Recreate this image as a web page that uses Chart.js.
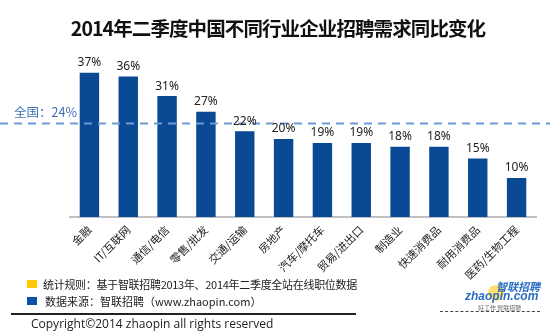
<!DOCTYPE html>
<html><head><meta charset="utf-8">
<script src="https://cdn.jsdelivr.net/npm/chart.js@4"></script>
<style>
html,body{margin:0;padding:0;background:#fff;}
#wrap{position:relative;width:550px;height:335px;overflow:hidden;font-family:"Noto Sans CJK SC","Noto Sans",sans-serif;}
canvas{position:absolute;left:0;top:0;}
.t{position:absolute;white-space:nowrap;}
</style></head><body>
<div id="wrap">
<canvas id="c" width="550" height="335"></canvas>
<div class="t" style="left:0;width:556px;top:13px;text-align:center;font-size:19.5px;font-weight:bold;color:#111;letter-spacing:-0.9px;">2014年二季度中国不同行业企业招聘需求同比变化</div>
<div class="t" style="left:27px;top:280px;width:10px;height:8px;background:#ffcc00;"></div>
<div class="t" style="left:43px;top:276px;font-size:11px;color:#222;letter-spacing:-0.3px;">统计规则：基于智联招聘2013年、2014年二季度全站在线职位数据</div>
<div class="t" style="left:27px;top:297px;width:10px;height:8px;background:#0a52a8;"></div>
<div class="t" style="left:45px;top:293px;font-size:11px;color:#222;">数据来源：智联招聘（www.zhaopin.com）</div>
<div class="t" style="left:11px;top:313px;width:345px;height:1.5px;background:#222;"></div>
<div class="t" style="left:31px;top:315px;font-size:12px;color:#222;font-family:'Open Sans','Noto Sans',sans-serif;">Copyright©2014 zhaopin all rights reserved</div>
<div class="t" style="left:488px;top:285px;width:16px;height:16px;border-radius:8px;background:#ffd84a;opacity:0.8;"></div>
<div class="t" style="left:496px;top:278px;font-size:11px;font-weight:bold;font-style:italic;color:#2a6cc0;">智联招聘</div>
<div class="t" style="left:465px;top:289px;font-size:12px;font-weight:bold;font-style:italic;color:#2a6cc0;font-family:'Liberation Sans',sans-serif;">zhaopin.com</div>
<div class="t" style="left:478px;top:303px;font-size:6px;color:#666;">好工作 智联招聘</div>
<div class="t" style="left:440px;top:311px;width:100px;height:0;border-top:1.5px dashed #444;"></div>
</div>
<script>
const categories = ["金融","IT/互联网","通信/电信","零售/批发","交通/运输","房地产","汽车/摩托车","贸易/进出口","制造业","快速消费品","耐用消费品","医药/生物工程"];
const values = [37,36,31,27,22,20,19,19,18,18,15,10];
const nationalAvg = 24;
const nationalLabel = "全国：24%";

const overlay = {
  id:'overlay',
  afterDatasetsDraw(chart){
    const ctx = chart.ctx, y = chart.scales.y;
    const meta = chart.getDatasetMeta(0);
    ctx.save();
    const yp = y.getPixelForValue(nationalAvg);
    ctx.strokeStyle = '#6f9bd4';
    ctx.lineWidth = 2;
    ctx.setLineDash([8,6]);
    ctx.beginPath(); ctx.moveTo(0,yp); ctx.lineTo(550,yp); ctx.stroke();
    ctx.setLineDash([]);
    ctx.fillStyle = '#3a6fb0';
    ctx.font = '12.5px "Noto Sans CJK SC", sans-serif';
    ctx.textAlign = 'left'; ctx.textBaseline = 'bottom';
    ctx.fillText(nationalLabel, 14, yp - 5);
    ctx.fillStyle = '#222';
    ctx.font = '12px "Noto Sans", sans-serif';
    ctx.textAlign = 'center'; ctx.textBaseline = 'bottom';
    meta.data.forEach((b,i)=>{
      ctx.fillText(values[i] + '%', b.x, b.y - 4);
    });
    ctx.restore();
  }
};

new Chart(document.getElementById('c'), {
  type:'bar',
  data:{ labels: categories, datasets:[{ data: values, backgroundColor:'#0a4a94', borderWidth:0, categoryPercentage:1.0, barPercentage:0.5 }]},
  options:{
    responsive:false, animation:false,
    layout:{ padding:{ left:70, right:14, top:61, bottom:0 } },
    plugins:{ legend:{display:false}, tooltip:{enabled:false} },
    scales:{
      x:{
        grid:{ display:false, drawTicks:false },
        border:{ display:true, color:'#c0c0c0', width:2 },
        ticks:{ maxRotation:45, minRotation:45, padding:6, color:'#222', font:{ size:11, family:'"Noto Sans CJK SC", sans-serif' } },
        afterFit(s){ s.height = 118; }
      },
      y:{ display:false, min:0, max:40 }
    }
  },
  plugins:[overlay]
});
</script>
</body></html>
